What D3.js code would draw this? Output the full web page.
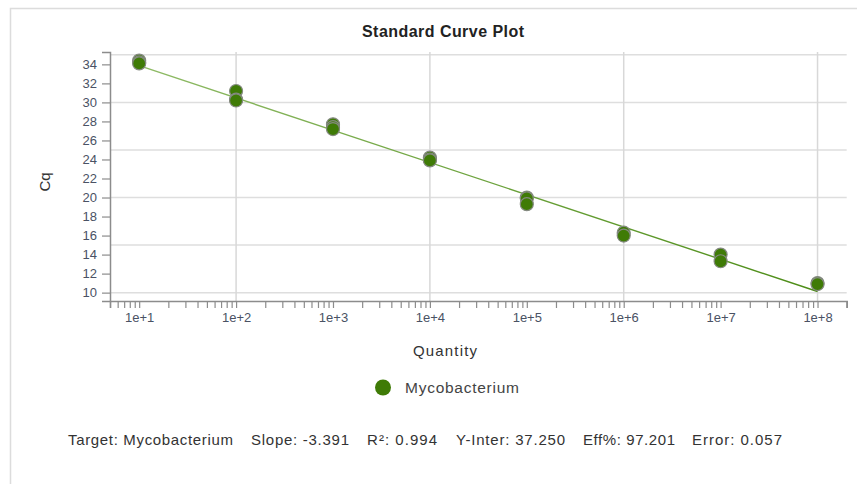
<!DOCTYPE html>
<html>
<head>
<meta charset="utf-8">
<script src="https://cdn.jsdelivr.net/npm/d3@7"></script>
<style>
  html, body { margin: 0; padding: 0; background: #fff; }
  svg { display: block; font-family: "Liberation Sans", Arial, sans-serif; }
</style>
</head>
<body>
<svg id="chart" width="857" height="484"></svg>
<script>
// Standard curve replicates: quantity (copies) and measured Cq
const quantities = [1e1, 1e1, 1e1, 1e2, 1e2, 1e2, 1e3, 1e3, 1e3, 1e4, 1e4, 1e4,
                    1e5, 1e5, 1e5, 1e6, 1e6, 1e7, 1e7, 1e8, 1e8];
const cqValues   = [34.4, 34.2, 34.1, 31.2, 30.3, 30.2, 27.7, 27.4, 27.2, 24.2, 24.0, 23.9,
                    20.0, 19.9, 19.3, 16.3, 16.0, 14.0, 13.3, 11.0, 10.9];

// Regression summary
const targetName = "Mycobacterium";
const slope = -3.391;
const rSquared = 0.994;
const yIntercept = 37.250;
const efficiency = 97.201;
const fitError = 0.057;

// Axis ticks
const yTicks = [10, 12, 14, 16, 18, 20, 22, 24, 26, 28, 30, 32, 34];
const yGrid = [10, 15, 20, 25, 30, 35];
const xMajor = [1e1, 1e2, 1e3, 1e4, 1e5, 1e6, 1e7, 1e8];
const xGrid = [1e2, 1e4, 1e6, 1e8];
const fitRange = [1e1, 1e8];

const svg = d3.select("#chart");

const x = d3.scaleLog().domain([5, 2e8]).range([110, 846.7]);
const y = d3.scaleLinear().domain([9.12, 35.3]).range([301, 52]);

// outer frame
svg.append("path")
  .attr("d", "M10.5,484V8.5H857")
  .attr("fill", "none")
  .attr("stroke", "#dcdcdc")
  .attr("stroke-width", 1.5);

// title
svg.append("text")
  .attr("x", 443).attr("y", 37)
  .attr("text-anchor", "middle")
  .attr("font-size", 16).attr("font-weight", "bold")
  .attr("fill", "#222")
  .attr("textLength", 162).attr("lengthAdjust", "spacing")
  .text("Standard Curve Plot");

// grid
const grid = svg.append("g");
grid.selectAll("line.h").data(yGrid).join("line")
  .attr("x1", x.range()[0]).attr("x2", x.range()[1])
  .attr("y1", d => y(d)).attr("y2", d => y(d))
  .attr("stroke", "#dedede").attr("stroke-width", 1.5);
grid.selectAll("line.v").data(xGrid).join("line")
  .attr("x1", d => x(d)).attr("x2", d => x(d))
  .attr("y1", y.range()[0]).attr("y2", y.range()[1])
  .attr("stroke", "#d8d8d8").attr("stroke-width", 1.5);

// y axis
const yAxis = svg.append("g")
  .attr("transform", `translate(${x.range()[0]},0)`)
  .call(d3.axisLeft(y).tickValues(yTicks).tickSize(8).tickPadding(5));

// x axis with log minor ticks
const xTickVals = x.ticks().concat([2e8]).filter(d => d >= 5 && d <= 2e8);
const majorSet = new Set(xMajor);
const xAxis = svg.append("g")
  .attr("transform", `translate(0,${y.range()[0]})`)
  .call(d3.axisBottom(x).tickValues(xTickVals).tickSize(7).tickPadding(5)
    .tickFormat(d => majorSet.has(d) ? "1e+" + Math.round(Math.log10(d)) : ""));

[yAxis, xAxis].forEach(g => {
  g.select(".domain").attr("stroke", "#8c8c8c").attr("stroke-width", 1.5);
  g.selectAll(".tick line").attr("stroke", "#8c8c8c").attr("stroke-width", 1.2);
  g.selectAll(".tick text")
    .attr("font-size", 13)
    .attr("font-family", "'Liberation Sans', Arial, sans-serif")
    .attr("fill", "#4a5264");
});

// axis titles
svg.append("text")
  .attr("transform", "translate(50,182) rotate(-90)")
  .attr("text-anchor", "middle")
  .attr("font-size", 15).attr("fill", "#333")
  .text("Cq");
svg.append("text")
  .attr("x", 445).attr("y", 356)
  .attr("text-anchor", "middle")
  .attr("font-size", 15).attr("fill", "#333")
  .attr("textLength", 64).attr("lengthAdjust", "spacing")
  .text("Quantity");

// fitted line
const defs = svg.append("defs");
const grad = defs.append("linearGradient")
  .attr("id", "fitGrad")
  .attr("gradientUnits", "userSpaceOnUse")
  .attr("x1", x(fitRange[0])).attr("x2", x(fitRange[1]))
  .attr("y1", 0).attr("y2", 0);
grad.append("stop").attr("offset", "0%").attr("stop-color", "#8fbb66");
grad.append("stop").attr("offset", "100%").attr("stop-color", "#4c8c16");

const fitLine = d3.line()
  .x(d => x(d))
  .y(d => y(yIntercept + slope * Math.log10(d)));
svg.append("path")
  .datum(fitRange)
  .attr("d", fitLine)
  .attr("fill", "none")
  .attr("stroke", "url(#fitGrad)")
  .attr("stroke-width", 1.4);

// replicate points
svg.append("g").selectAll("circle")
  .data(quantities.map((q, i) => ({ q, cq: cqValues[i] })))
  .join("circle")
  .attr("cx", d => x(d.q))
  .attr("cy", d => y(d.cq))
  .attr("r", 6.5)
  .attr("fill", "#3f7b06")
  .attr("stroke", "#858a82")
  .attr("stroke-width", 1.2);

// legend
svg.append("circle")
  .attr("cx", 383).attr("cy", 387.5).attr("r", 8)
  .attr("fill", "#3f7b06");
svg.append("text")
  .attr("x", 405).attr("y", 393)
  .attr("font-size", 15.5).attr("fill", "#444")
  .attr("textLength", 114).attr("lengthAdjust", "spacing")
  .text(targetName);

// regression summary
const stats = [
  { label: `Target: ${targetName}`, x: 68, w: 165 },
  { label: `Slope: ${slope.toFixed(3)}`, x: 251, w: 98 },
  { label: `R²: ${rSquared.toFixed(3)}`, x: 367, w: 70 },
  { label: `Y-Inter: ${yIntercept.toFixed(3)}`, x: 456, w: 109 },
  { label: `Eff%: ${efficiency.toFixed(3)}`, x: 583, w: 92 },
  { label: `Error: ${fitError.toFixed(3)}`, x: 692, w: 90 }
];
svg.append("g").selectAll("text")
  .data(stats)
  .join("text")
  .attr("x", d => d.x).attr("y", 445)
  .attr("font-size", 15).attr("fill", "#333")
  .attr("textLength", d => d.w).attr("lengthAdjust", "spacing")
  .text(d => d.label);
</script>
</body>
</html>
